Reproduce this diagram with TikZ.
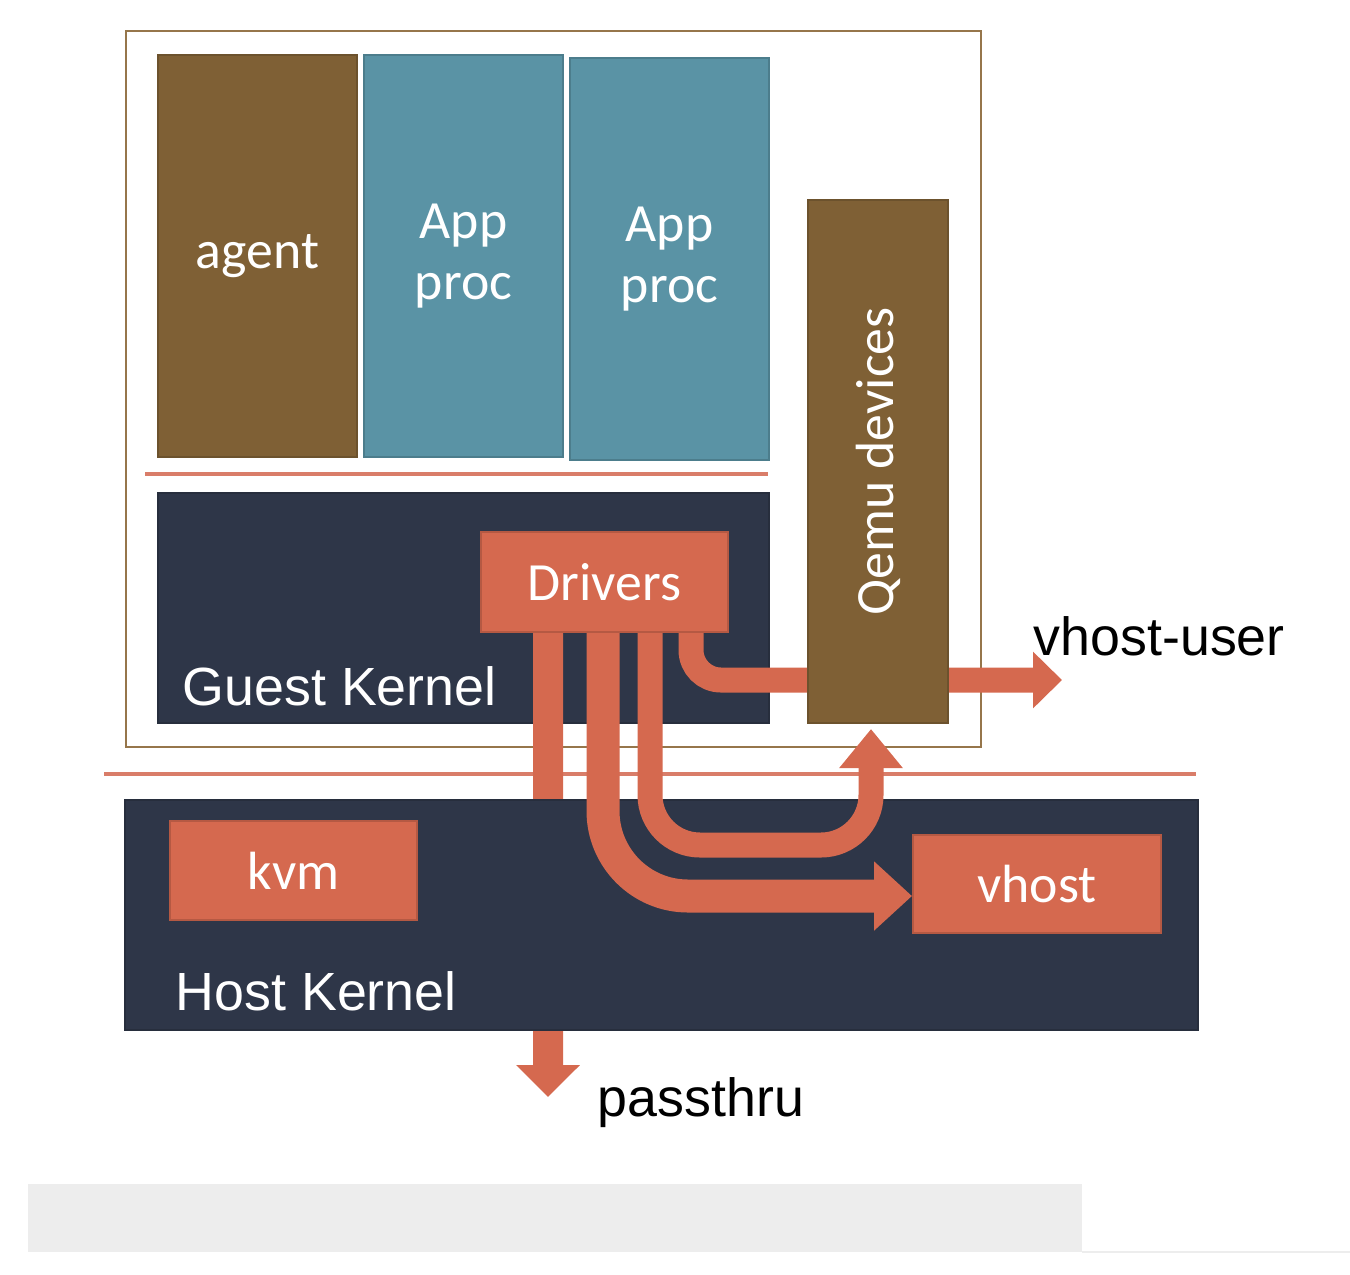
\documentclass[tikz,border=0pt]{standalone}
\usepackage{fontspec}
\setmainfont{Carlito}
\newfontfamily\arialfont{Liberation Sans}
\usepackage{xcolor}
\definecolor{boxbrown}{RGB}{127,96,53}
\definecolor{appteal}{RGB}{90,147,165}
\definecolor{kernnavy}{RGB}{46,54,72}
\definecolor{drvorange}{RGB}{213,105,79}
\definecolor{vmline}{RGB}{150,118,75}
\definecolor{sepline}{RGB}{217,125,105}
\definecolor{bargrey}{RGB}{237,237,237}
\usepackage{tikz}
\usetikzlibrary{arrows.meta, calc}

\begin{document}
\begin{tikzpicture}[x=0.1mm, y=-0.1mm,
  every node/.style={inner sep=0pt, text=white, font=\fontsize{15.3}{17.6}\selectfont},
  blk/.style={draw=#1!85!black, fill=#1, line width=0.2mm, align=center},
  fat/.style={draw=drvorange, line width=#1}]
 \useasboundingbox (0,0) rectangle (1350,1274);
 % background bits
 \fill[bargrey] (28,1184) rectangle (1082,1252);
 \draw[bargrey, line width=0.15mm] (1082,1252) -- (1350,1252);
 \node[draw=vmline, line width=0.25mm, minimum width=85.5mm, minimum height=71.6mm] (vm) at (553.5,389) {};
 \draw[sepline, line width=0.35mm] (145,474) -- (768,474);
 \draw[sepline, line width=0.35mm] (104,774) -- (1196,774);
 % guest side
 \node[blk=boxbrown, minimum width=19.9mm, minimum height=40.2mm] (agent) at (257.5,256) {agent};
 \node[blk=appteal, minimum width=19.9mm, minimum height=40.2mm] (app1) at (463.5,256) {App\\proc};
 \node[blk=appteal, minimum width=19.9mm, minimum height=40.2mm] (app2) at (669.5,259) {App\\proc};
 \node[blk=kernnavy, minimum width=61.1mm, minimum height=23mm] (gkern) at (463.5,608) {};
 \node[anchor=base west, font=\arialfont\fontsize{15.3}{17.6}\selectfont] (gklabel) at (182,705) {Guest Kernel};
 \node[blk=drvorange, minimum width=24.7mm, minimum height=10mm] (drivers) at (604.5,582) {Drivers};
 % passthru and vhost-user go under the boxes
 \coordinate (pt) at (548,1097);
 \coordinate (vu) at (1062,680);
 \draw[fat=3mm, -{Triangle[width=6.2mm,length=3.2mm]}] ([xshift=-5.65mm]drivers.south) -- (pt);
 \draw[fat=2.5mm, rounded corners=3mm, -{Triangle[width=5.5mm,length=2.9mm]}] ([xshift=8.65mm]drivers.south) |- (vu);
 \node[blk=boxbrown, minimum width=14mm, minimum height=52.3mm] (qemu) at (878,461.5) {};
 \node[rotate=90] (qemutext) at (qemu.center) {Qemu devices};
 \node[anchor=base west, text=black, font=\arialfont\fontsize{15.3}{17.6}\selectfont] (vulabel) at (1033,655) {vhost-user};
 % host side
 \node[blk=kernnavy, minimum width=107.3mm, minimum height=23mm] (hkern) at (661.5,915) {};
 \node[anchor=base west, font=\arialfont\fontsize{15.3}{17.6}\selectfont] (hklabel) at (175,1010) {Host Kernel};
 \node[blk=drvorange, minimum width=24.7mm, minimum height=9.9mm] (kvm) at (293.5,870.5) {kvm};
 \node[blk=drvorange, minimum width=24.8mm, minimum height=9.8mm] (vhost) at (1037,884) {vhost};
 \coordinate (ubend) at (760,845);
 \draw[fat=3.3mm, rounded corners=8.5mm, -{Triangle[width=6.7mm,length=3.8mm]}] ([xshift=-0.15mm]drivers.south) |- ([yshift=-1.2mm]vhost.west);
 \draw[fat=2.5mm, rounded corners=5mm, -{Triangle[width=6.1mm,length=3.9mm]}] ([xshift=4.55mm]drivers.south) |- (ubend) -| ([xshift=-0.7mm,yshift=-0.5mm]qemu.south);
 \node[anchor=base west, text=black, font=\arialfont\fontsize{15.3}{17.6}\selectfont] (ptlabel) at (597,1116) {passthru};
\end{tikzpicture}
\end{document}
